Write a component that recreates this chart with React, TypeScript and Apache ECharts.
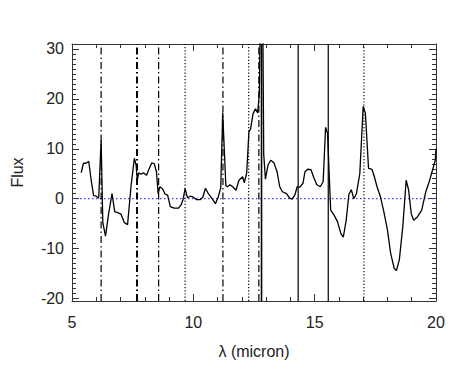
import React, { useEffect, useRef } from "react";
import * as echarts from "echarts";

// Wavelength (micron) and flux of the residual spectrum
const wavelength: number[] = [
  5.38, 5.47, 5.58, 5.69, 5.79, 5.89, 6.0, 6.1, 6.2, 6.27, 6.38, 6.51, 6.65, 6.76, 6.88, 7.02,
  7.16, 7.29, 7.43, 7.57, 7.64, 7.69, 7.75, 7.84, 7.94, 8.07, 8.18, 8.29, 8.39, 8.48, 8.55,
  8.62, 8.73, 8.84, 8.94, 9.05, 9.21, 9.39, 9.5, 9.58, 9.66, 9.76, 9.87, 10.0, 10.14, 10.28,
  10.39, 10.5, 10.62, 10.76, 10.91, 11.03, 11.13, 11.21, 11.34, 11.4, 11.51, 11.62, 11.76,
  11.88, 12.03, 12.1, 12.2, 12.29, 12.36, 12.46, 12.56, 12.65, 12.72, 12.78, 12.82, 12.86,
  12.9, 12.97, 13.08, 13.19, 13.32, 13.45, 13.56, 13.67, 13.84, 13.97, 14.07, 14.18, 14.28,
  14.39, 14.52, 14.6, 14.71, 14.85, 14.95, 15.09, 15.23, 15.35, 15.45, 15.53, 15.66, 15.8,
  15.94, 16.08, 16.18, 16.3, 16.41, 16.51, 16.61, 16.72, 16.86, 17.0, 17.09, 17.22, 17.36,
  17.46, 17.57, 17.71, 17.85, 18.0, 18.13, 18.28, 18.37, 18.49, 18.63, 18.77, 18.87, 18.98,
  19.08, 19.24, 19.41, 19.58, 19.72, 19.86, 19.97, 20.0,
];
const flux: number[] = [
  5.2, 7.1, 7.1, 7.5, 3.7, 0.6, 0.5, 0.1, 11.7, -4.8, -7.5, -3.0, 1.0, -2.6, -2.8, -3.1,
  -4.8, -5.2, 2.4, 8.1, 6.8, 3.7, 5.2, 4.9, 5.2, 4.7, 6.0, 7.2, 7.0, 5.4, 1.0,
  2.4, 2.0, 0.9, 0.7, -1.6, -1.9, -1.9, -1.2, -0.1, 2.0, 0.2, 0.5, 0.3, -0.2, -0.2,
  0.3, 2.1, 1.0, 0.1, -1.0, 0.4, 2.2, 17.2, 2.6, 2.4, 2.8, 2.4, 1.7,
  3.7, 4.4, 3.2, 5.2, 13.4, 14.0, 17.0, 18.0, 17.2, 21.0, 45.0, 40.0, 38.0,
  9.0, 3.9, 6.8, 7.7, 7.2, 5.4, 2.4, 1.4, 1.0, 0.1, -0.1, 0.7, 2.4,
  2.3, 3.1, 5.4, 5.9, 5.8, 4.4, 2.8, 2.4, 3.4, 14.3, 13.1, -2.3, -3.3,
  -4.6, -7.0, -7.7, -4.3, 0.9, 1.8, 0.0, 1.0, 5.0, 18.5, 17.1, 6.1, 5.9,
  4.4, 2.4, 0.4, -2.6, -6.3, -10.9, -14.0, -14.4, -12.2, -5.7, 3.7, 1.8, -3.0,
  -4.3, -3.6, -2.3, 1.4, 3.4, 5.8, 7.7, 10.0,
];

// Feature markers (micron)
const pahLines: number[] = [6.2, 7.68, 8.57, 11.22, 12.7];
const h2Lines: number[] = [9.66, 12.28, 17.03];
const neLines: number[] = [12.81, 14.32, 15.56];

const xMin = 5;
const xMax = 20;
const yMin = -20.5;
const yMax = 31;

const FONT = "Liberation Sans, Arial, Helvetica, sans-serif";

export default function App() {
  const ref = useRef<HTMLDivElement>(null);

  useEffect(() => {
    if (!ref.current) return;
    const chart = echarts.init(ref.current, undefined, { renderer: "svg" });

    const vline = (x: number, type: any, width: number) => ({
      type: "line",
      data: [
        [x, yMin],
        [x, yMax],
      ],
      showSymbol: false,
      symbol: "none",
      silent: true,
      lineStyle: { color: "#000", width, type },
      z: 2,
    });

    const axisCommon = {
      type: "value" as const,
      splitLine: { show: false },
      axisLine: { show: true, onZero: false, lineStyle: { color: "#333", width: 1 } },
      axisTick: { show: true, inside: true, length: 7, lineStyle: { color: "#333" } },
      minorTick: { show: true, length: 4, lineStyle: { color: "#333" } },
    };

    const series: any[] = [
      {
        type: "line",
        data: [
          [xMin, 0],
          [xMax, 0],
        ],
        symbol: "none",
        silent: true,
        lineStyle: { color: "#3a3aff", width: 1.2, type: [1.5, 2.5] },
        z: 1,
      },
      ...pahLines.map((x) => vline(x, [7, 3, 1.5, 3], x === 7.68 ? 2 : 1.2)),
      ...h2Lines.map((x) => vline(x, [1.2, 2], 1.2)),
      ...neLines.map((x) => vline(x, "solid", x === 12.81 ? 1.6 : 1.2)),
      {
        type: "line",
        data: wavelength.map((w, i) => [w, flux[i]]),
        symbol: "none",
        clip: true,
        lineStyle: { color: "#000", width: 1.3 },
        z: 3,
      },
    ];

    chart.setOption({
      animation: false,
      grid: { left: 72, top: 44, right: 27, bottom: 72, containLabel: false },
      xAxis: [
        {
          ...axisCommon,
          position: "bottom",
          min: xMin,
          max: xMax,
          interval: 5,
          minorTick: { ...axisCommon.minorTick, splitNumber: 5 },
          axisLabel: { color: "#222", fontSize: 16, fontFamily: FONT, margin: 13 },
          name: "λ (micron)",
          nameLocation: "middle",
          nameGap: 42,
          nameTextStyle: { color: "#222", fontSize: 16, fontFamily: FONT },
        },
        {
          ...axisCommon,
          position: "top",
          min: xMin,
          max: xMax,
          interval: 5,
          minorTick: { ...axisCommon.minorTick, splitNumber: 5 },
          axisLabel: { show: false },
        },
      ],
      yAxis: [
        {
          ...axisCommon,
          position: "left",
          min: yMin,
          max: yMax,
          splitNumber: 5,
          minorTick: { ...axisCommon.minorTick, splitNumber: 10 },
          axisLabel: {
            color: "#222",
            fontSize: 16,
            fontFamily: FONT,
            margin: 8,
            formatter: (v: number) => (Math.abs(v % 10) < 1e-9 ? String(v) : ""),
          },
          name: "Flux",
          nameLocation: "middle",
          nameGap: 47,
          nameRotate: 90,
          nameTextStyle: { color: "#222", fontSize: 16, fontFamily: FONT },
        },
        {
          ...axisCommon,
          position: "right",
          min: yMin,
          max: yMax,
          splitNumber: 5,
          minorTick: { ...axisCommon.minorTick, splitNumber: 10 },
          axisLabel: { show: false },
        },
      ],
      series,
    });

    return () => chart.dispose();
  }, []);

  return (
    <div
      ref={ref}
      style={{ position: "absolute", left: 0, top: 0, width: 463, height: 373, background: "#fff" }}
    />
  );
}
